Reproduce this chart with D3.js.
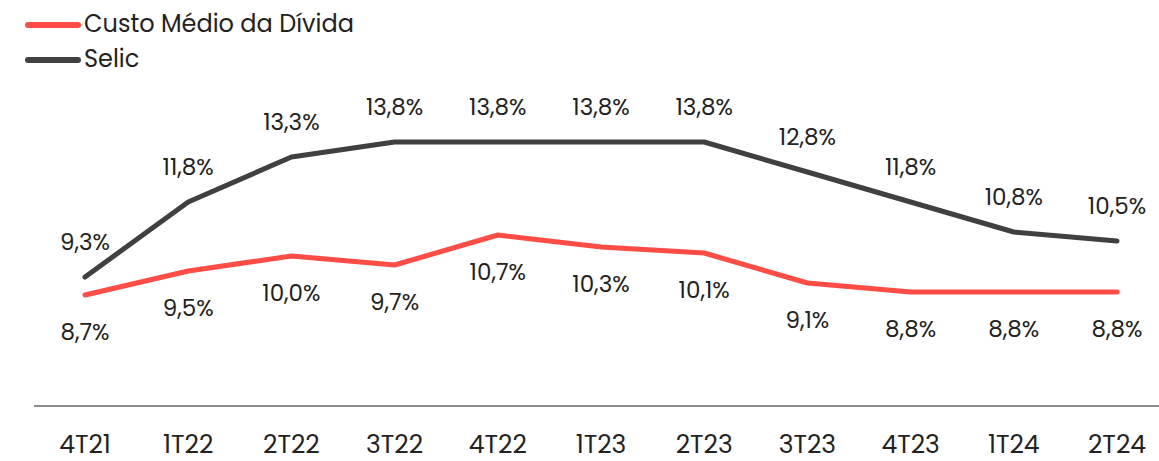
<!DOCTYPE html>
<html>
<head>
<meta charset="utf-8">
<script src="https://cdn.jsdelivr.net/npm/d3@7"></script>
<style>
  body { margin: 0; background: #fff; }
  svg text { font-family: Poppins, "Open Sans", sans-serif; fill: #222; }
</style>
</head>
<body>
<div id="chart"></div>
<script>
var quarters = ['4T21', '1T22', '2T22', '3T22', '4T22', '1T23', '2T23', '3T23', '4T23', '1T24', '2T24'];
var custoMedio = [8.7, 9.5, 10.0, 9.7, 10.7, 10.3, 10.1, 9.1, 8.8, 8.8, 8.8];
var selic = [9.3, 11.8, 13.3, 13.8, 13.8, 13.8, 13.8, 12.8, 11.8, 10.8, 10.5];
var seriesNames = ['Custo Médio da Dívida', 'Selic'];
var seriesColors = ['#ff4d45', '#404040'];

var width = 1159;
var height = 461;

var svg = d3.select('#chart').append('svg')
  .attr('width', width)
  .attr('height', height);

var x = d3.scalePoint()
  .domain(quarters)
  .range([85, 1117]);

var y = d3.scaleLinear()
  .domain([5, 15])
  .range([406, 106]);

// baseline
svg.append('line')
  .attr('x1', 34).attr('x2', width)
  .attr('y1', y(5)).attr('y2', y(5))
  .attr('stroke', '#8c8c8c')
  .attr('stroke-width', 2);

// category labels
svg.selectAll('.tick-label')
  .data(quarters)
  .enter()
  .append('text')
  .attr('class', 'tick-label')
  .attr('x', d => x(d))
  .attr('y', 453)
  .attr('text-anchor', 'middle')
  .attr('font-size', 25)
  .text(d => d);

var line = d3.line()
  .x((d, i) => x(quarters[i]))
  .y(d => y(d));

var fmt = v => d3.format('.1f')(v).replace('.', ',') + '%';

[custoMedio, selic].forEach(function (values, s) {
  svg.append('path')
    .datum(values)
    .attr('d', line)
    .attr('fill', 'none')
    .attr('stroke', seriesColors[s])
    .attr('stroke-width', 5)
    .attr('stroke-linecap', 'round')
    .attr('stroke-linejoin', 'round');

  svg.selectAll('.lbl' + s)
    .data(values)
    .enter()
    .append('text')
    .attr('class', 'lbl' + s)
    .attr('x', (d, i) => x(quarters[i]))
    .attr('y', d => s === 0 ? y(d) + 37 + 8 : y(d) - 35 + 8)
    .attr('text-anchor', 'middle')
    .attr('font-size', 23)
    .text(fmt);
});

// legend
var legend = svg.append('g');
seriesNames.forEach(function (name, i) {
  var ly = 25 + i * 35;
  legend.append('line')
    .attr('x1', 28).attr('x2', 78)
    .attr('y1', ly).attr('y2', ly)
    .attr('stroke', seriesColors[i])
    .attr('stroke-width', 6)
    .attr('stroke-linecap', 'round');
  legend.append('text')
    .attr('x', 84)
    .attr('y', ly + 7)
    .attr('font-size', 24)
    .text(name);
});
</script>
</body>
</html>
